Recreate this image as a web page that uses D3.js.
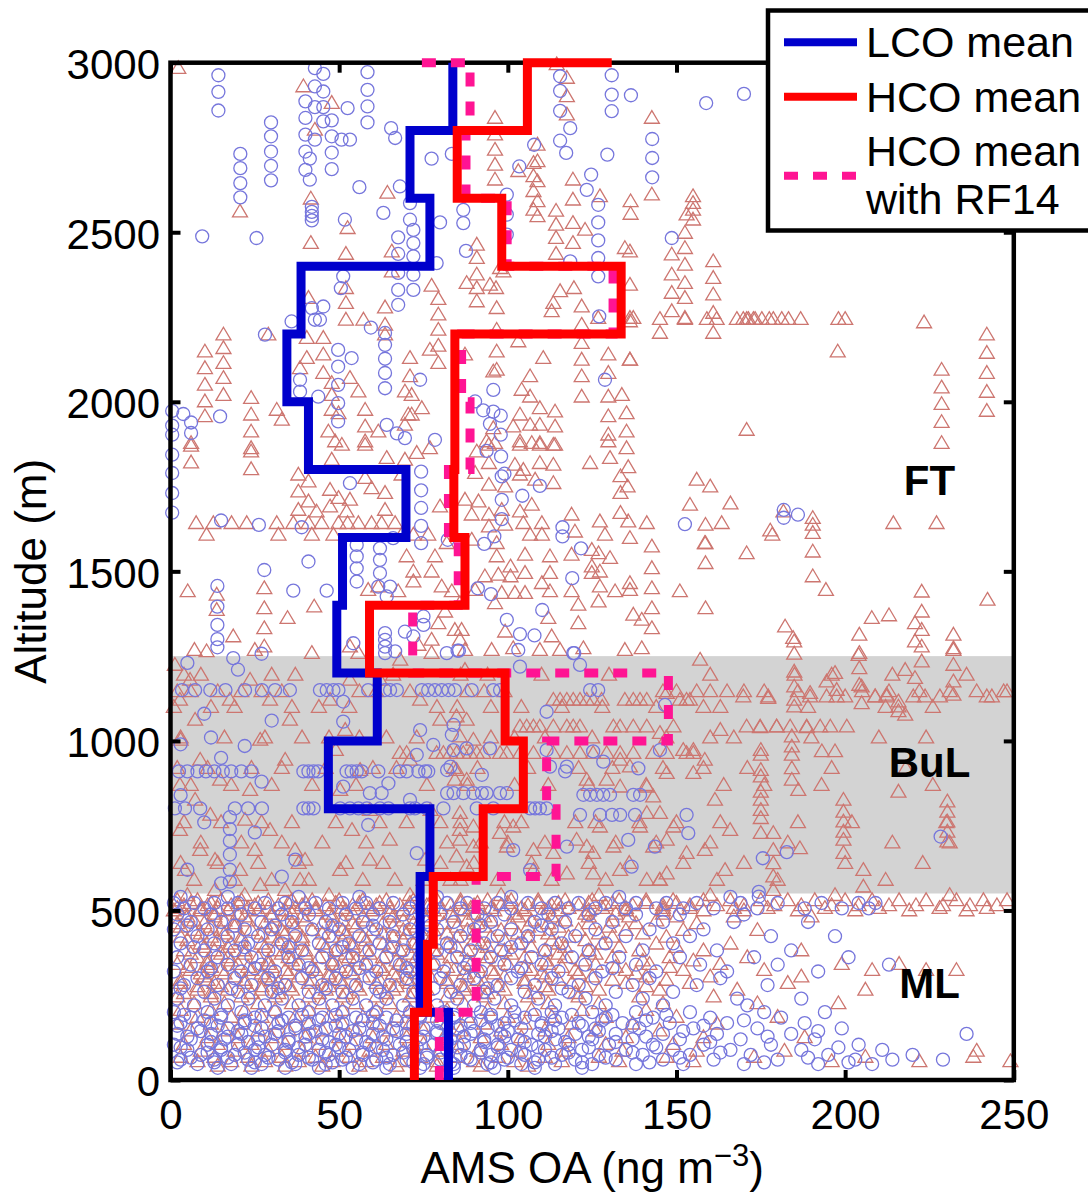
<!DOCTYPE html>
<html><head><meta charset="utf-8">
<script src="https://cdn.jsdelivr.net/npm/d3@7"></script>
<style>body{margin:0;background:#fff} svg text{font-family:"Liberation Sans",Arial,Helvetica,sans-serif}</style>
</head><body>
<svg id="c" width="1088" height="1197"></svg>
<script>
// ---------------- DATA ----------------
const xTicks = [0, 50, 100, 150, 200, 250];
const yTicks = [0, 500, 1000, 1500, 2000, 2500, 3000];
const bandRange = [550, 1250];           // BuL shading (m)
const layerLabels = [["FT", 225, 1726], ["BuL", 225, 894], ["ML", 225, 242]];
const legendLabels = ["LCO mean", "HCO mean", "HCO mean", "with RF14"];

// 200 m altitude bin edges and step means (last value = end point at 3000 m)
const binAlt  = [0,200,400,600,800,1000,1200,1400,1600,1800,2000,2200,2400,2600,2800,3000];
const lcoMean = [82.4,74,74,76.9,46.8,61.3,49.3,51,69.8,40.9,34.5,38.7,76.9,71,83.7,83.7];
const hcoMean = [72.3,76.2,77.9,92.7,104.6,99.2,59,87.3,84,84.3,84.3,133.6,98.2,85,105.8,130.8];
const hcoRF14 = [79.7,90.6,90.6,114.3,111.5,147.6,71.8,85.3,82.4,88.8,86.3,131.2,99.8,87.6,88.8,72];

// LCO individual points (circles): vertical profiles [x,[alts]], level legs [alt,[xs]], scattered [x,alt]
const lcoCols = [
 [14.2,[2963,2914,2859]],[29.8,[2824,2783,2738,2696,2653]],[20.7,[2731,2689,2645,2603]],
 [42.8,[2984,2930,2869,2773]],[40,[2886,2837,2788,2738,2684]],[41.3,[2717,2655]],
 [45.3,[2967,2915,2869,2827]],[47.8,[2830,2783,2735,2686]],[58.4,[2972,2920,2871,2824]],
 [41.9,[2575,2560,2548,2535]],[72,[2507,2468,2429,2375,2330]],[67.5,[2485,2436,2380,2330]],
 [63.6,[2203,2168,2127,2085,2040]],[49.7,[2153,2104,2050,1996,1942]],[115.5,[2960,2917,2858,2770]],
 [130.8,[2963,2906,2857]],[142.8,[2775,2719,2662]],[126.8,[2581,2529,2476,2424,2370]],
 [99.7,[2611,2552,2493]],[0.5,[1973,1930,1903,1844,1790,1731,1673]],[74.3,[1794,1739,1687,1634,1583]],
 [55.2,[1578,1544,1509,1470]],[62.1,[1568,1534,1495]],[13.9,[1457,1396,1342,1300,1276]],
 [63.6,[1318,1298,1278,1259]],[17.6,[775,740,705,665,620,585]]
];
const lcoRows = [
 [1150,[3.4,7.3,11.8,16.3,22.1,27.1,31,35.4,44.3,46.3,48.3,49.8,58.6,63.6,65.1,67.1,74.5,76.4,78.4,80.4,82.4,84.3,89.3,95.7,97.7,124.4,126.8]],
 [910,[2.5,5,8,10.5,13,15.5,18,21,24,39.4,40.9,42.4,43.8,52.2,53.7,55.2,56.7,61.6,68,70,73.5,75.5,76.4]],
 [846,[82,83.9,86.8,89.8,92.3,93.7,97.7,99.7]],
 [841,[122.4,124.4,126.4,128.3,130.3,137.2,139.2]],
 [801,[1.3,4.3,8.8,19.1,23,27.1,39.4,40.9,42.4,50.3,53.2,55.7,58.2,62.1,64.6,71,72.5,76,80.9,90.8,95.7,106.6,108.1,109.5,111.5]],
 [782,[121.4,127.3,130.9,133.3,137.7,153]],
 [540,[3,17,38,56,79,101,133,166]],
 [522,[1,7,13,20,28,34,43,51,58,66,73,82,88,97,106,114,121,129,138,147,156,169,180,193,204,209]],
 [506,[4,10,17,25,32,40,47,55,62,71,78,86,93,101,110,118,126,135,144,152,161,174,188,199,207]],
 [488,[2,12,21,33,41,52,60,69,80,91,99,112,124,138,151,170]],
 [466,[6,15,27,36,46,57,65,76,84,95,108,117,131,146,167,189]],
 [455,[5,19,31,48,60,77,92,110]],
 [444,[1,11,22,30,42,50,61,71,79,90,101,113,126,142,158]],
 [424,[8,17,26,37,47,56,66,75,86,97,106,120,135,154,178,197]],
 [403,[3,13,23,33,44,53,62,72,82,93,104,116,129,149]],
 [392,[7,22,35,51,66,83,101]],
 [382,[10,19,29,39,49,59,69,79,89,98,111,124,140,162,184]],
 [362,[2,14,24,35,45,54,64,74,85,95,107,119,133,151,173,201]],
 [340,[6,17,27,38,48,58,68,78,88,99,110,123,138,157,180,213]],
 [330,[12,25,41,56,70,87,104,131]],
 [320,[1,11,21,31,42,52,61,71,81,92,103,115,128,144,165,192]],
 [300,[8,19,29,39,49,59,70,80,90,101,113,126,142,163]],
 [280,[4,14,24,34,45,55,65,75,86,97,108,121,137,156,177]],
 [270,[3,18,32,46,61,78,94,116]],
 [260,[10,20,30,41,51,62,72,83,93,105,118,132,149]],
 [240,[2,13,23,33,44,54,64,75,85,96,109,123,140,168,187]],
 [220,[7,17,28,38,48,58,69,79,90,101,114,129,146,171]],
 [200,[1,11,21,31,41,51,61,71,81,92,102,113,125,138,154,176,194]],
 [192,[4,15,27,39,49,60,74,84,95,108,119,131,147]],
 [184,[6,15,25,35,45,55,64,74,84,95,105,116,129,143,160,181]],
 [176,[10,22,33,44,57,67,79,92,102,114,128,141,170]],
 [168,[3,12,22,32,41,51,60,70,80,89,99,110,121,134,148,165,188]],
 [160,[2,14,25,37,49,62,72,86,97,110,122,137,158]],
 [152,[8,17,27,37,46,56,66,75,85,94,104,115,126,139,155,174,199]],
 [144,[9,20,32,43,54,67,79,90,100,113,127,152,192]],
 [136,[2,12,21,31,41,50,60,70,79,89,98,109,120,132,146,162,184,236]],
 [128,[5,17,28,40,52,63,75,87,99,111,124,141,177]],
 [120,[6,16,26,35,45,55,64,74,83,93,103,114,125,137,151,169,191]],
 [112,[12,23,35,47,58,70,82,93,105,117,132,160]],
 [104,[1,11,20,30,40,49,59,68,78,87,97,107,118,130,143,158,178,204]],
 [96,[3,15,26,38,50,61,73,85,97,109,124,144,198]],
 [89,[5,15,25,34,44,53,63,72,82,92,101,111,122,135,149,166,187,211]],
 [81,[11,22,34,46,57,69,80,92,104,118,137,163]],
 [74,[9,19,28,38,47,57,66,76,86,95,105,116,127,140,154,172,195,220]],
 [66,[6,17,29,41,52,64,76,88,100,113,129,151,189]],
 [60,[3,13,23,32,42,51,61,70,80,89,99,109,120,132,146,161,180,203,214,229]],
 [52,[2,13,25,36,48,60,72,83,95,108,122,142,176,201]],
 [47,[8,18,27,37,46,56,65,75,84,94,104,114,125,138,152,170,192,208]],
 [36,[14,24,34,44,54,64,74,84,96,108,122]]
];
const lcoPts = [
 [9.4,2488],[25.5,2483],[52.5,2866],[50.7,2773],[53.2,2773],[56,2633],[51.7,2537],[63.1,2557],[65.4,2807],[66.6,2778],
 [68,2635],[71,2586],[71,2537],[78.9,2409],[79.9,2529],[77.4,2717],[83.4,2731],[51.2,2370],[50.5,2335],[45.3,2281],
 [41.9,2276],[42.8,2242],[44.3,2242],[35.9,2237],[28,2198],[59.4,2219],[67.5,2286],[53.7,2129],[38.4,2065],[38.4,2030],
 [43.8,2015],[74,2065],[64.1,1932],[67.1,1907],[69.5,1893],[78.4,1888],[3.8,1964],[6.1,1939],[6.1,1908],[14.7,1957],
 [117.3,2734],[118.5,2807],[136.5,2904],[129.5,2729],[158.8,2881],[170,2908],[107.8,2758],[103.4,2694],[124.7,2670],[123.4,2625],
 [127.1,2252],[86.8,2566],[86.8,2527],[87.6,2445],[118.5,2414],[148.6,2483],[128.8,2065],[95.7,2035],[95.7,1971],[97.9,1959],
 [97.9,1903],[90.3,2001],[92.7,1975],[94.7,1935],[93.7,1855],
 [98,1839],[98.2,1780],[99,1788],[109.5,1752],[104.3,1723],[98.2,1711],[98.2,1654],[96,1603],[93,1581],[116.2,1630],
 [116.2,1603],[121.7,1568],[119.1,1480],[152.5,1639],[91.1,1450],[95,1433],[110.2,1386],[99.7,1357],[103.6,1315],[107.9,1311],
 [103.1,1268],[119.7,1259],[85.5,1266],
 [15,1650],[26.2,1637],[38.9,1630],[40.9,1529],[27.8,1504],[36.4,1443],[46.3,1443],[18.6,1244],[27,1257],[53.2,1760],
 [61.6,1455],[65.1,1455],[64.1,1426],[66,1598],[69.5,1322],[72,1308],[75,1367],[75,1342],[54.2,1288],[66.6,1264],
 [81.9,1259],[85.1,1266],[82.2,1593],[181.8,1681],[181.8,1658],[186,1667],
 [51.2,1116],[51.2,1057],[74,1032],[83.4,1018],[83.9,1047],[111.5,1086],[119.4,1259],[121.4,1224],[103.6,1219],[146.6,1106],
 [77.9,988],[83.9,973],[87.8,978],[94.7,978],[73,959],[125.3,969],[145.1,973],[111.5,973],[112.5,924],[117.5,924],
 [117,910],[128.3,939],[138.7,919],[92.3,900],[82,914],[83,924],[51.2,865],[59.1,846],[62.6,846],[64.6,875],
 [71,826],[58.6,752],[73,669],[101.6,678],[106.6,619],[136.7,629],[153.5,728],[135.7,708],[143.6,688],[117.5,688],
 [175.6,654],[182.7,672],[174.4,555],[174.4,541],[228.3,718],
 [5,1230],[20,1210],[10,1080],[30,1060],[3,990],[15,950],[27,880],[3,840],[10,760],[25,730],[37,650],[5,620],[15,580],[33,600],[12,1010],[22,985]
];

// HCO individual points (triangles)
const hcoCols = [
 [79.4,[2303,2257,2212,2165,2114]],[15.7,[2198,2158,2114,2070,2020]],[10.2,[2148,2099,2050,2001,1957]],
 [23.9,[2011,1962,1912,1863,1853,1801]],[117.5,[2955,2901,2847]],[96.2,[2837,2788,2743,2699,2655]],
 [108.8,[2758,2709,2650,2591,2547]],[114.3,[2563,2522,2483,2436]],[154.9,[2606,2586,2566,2537]],
 [152.5,[2498,2453,2404,2350,2306]],[148.6,[2434,2375,2321,2267]],[160.9,[2414,2365,2316,2262,2203]],
 [242,[2198,2144,2085,2029,1973]],[228.6,[2094,2042,1993,1940,1878]],[190.4,[1657,1637,1613,1558,1485]],
 [184.9,[1293,1257,1204,1160,1121,1101]],[204.2,[1259,1214,1165]],[232.1,[1268,1224,1175,1136]],
 [184.2,[1013,983,959,919,885]],[175,[973,959,914,895,850,826,796,772,728]],[178.7,[728,678,639,600,560]],
 [199.5,[826,791,762,732,708,669]],[230.3,[821,791,762,732,703]],[205.4,[619,570]],[6.1,[1870,1821]],
 [27.8,[1450,1391,1332,1278]],[13.7,[1431,1386]]
];
const hcoRows = [
 [2244,[145.1,152.5,159,161.9,167.9,169.8,170.8,171.3,172.8,173.3,175.3,177.5,178.7,181.2,183.2,186.8,198,200]],
 [1642,[7.6,12.7,18.1,22.6,31.5,36.4,40.9,44.8,49.8,52.5,55.7,59.6,62.6,66.6]],
 [1608,[10.7,32,41.9,48.3,68.5,72,76.4]],
 [1195,[4,9,30,37,66,86,94,110,130,160,185,196,214,236]],
 [1146,[2,6,14,21,27,33,56,61,71,88,93,99,146,150,156,160,165,170,176,186,205,213,222,231,239,247]],
 [1131,[169.8,177.2,189.6,194.5,197.5,200,208.9,212.3,220.2,223.7,228.1,242,243.5]],
 [1121,[113.5,115.5,117.5,119.4,121.4,123.4,125.3,127.8,134.7,137.2,139.2,141.2,151,153]],
 [1100,[1,12,19,36,44,53,79,85,95,104,116,128,144,158,163,189,212,226]],
 [1042,[103.6,105.6,107.6,109.5,113.5,117.5,119.4,121.4,131.3,133.3,137.2,141.2,149.1,170.8,174.8,179.7,183.7,188.6,192.6,195.6,200.5]],
 [1010,[3,16,28,39,47,56,64,73,95,102,111,125,147,160,167,190,210,224]],
 [964,[68,70,78.9,80.9,82.9,84.8,86.8,88.8,90.8,92.7,97.7,99.7,103.6,107.6,113.5,117.5,121.4,125.3,129.3,133.3,137.2,143.1,147.1,153,155]],
 [920,[2,11,24,33,46,60,67,84,91,106,121,131,146,158,171,196,218]],
 [870,[6,18,30,42,55,76,88,102,112,124,141,164,176,193,226]],
 [760,[4,15,27,36,49,62,70,80,86,99,104,120,126,139,150,163,186,202,230]],
 [700,[9,21,33,45,58,82,92,100,111,132,144,160,183,214,231]],
 [640,[3,14,26,38,52,63,80,90,107,124,136,152,170,200,223]],
 [590,[7,19,30,41,57,75,86,97,113,129,145,162,180,212]],
 [545,[5,22,47,71,98,127,160,197,231]],
 [530,[2,8,15,21,29,36,42,50,57,64,72,79,86,94,101,109,117,125,133,141,149,158,166,175,183,191,200,208,216,224,233,241,248]],
 [522,[6,12,20,26,35,40,49,56,62,71,77,86,91,100,109,115,124,131,141,150]],
 [515,[4,11,18,25,32,39,46,54,61,68,76,83,90,98,106,113,121,129,137,146,154,162,170,179,187,196,204,213,221,229,237,245]],
 [507,[2,9,14,23,29,37,43,51,59,65,74,80,89,95,104,112,118,128,135,146,154,167,177,194,210,228,242]],
 [500,[1,9,17,26,34,43,52,60,69,78,87,96,105,115,124,135,146,158,170,186,203,219,236]],
 [490,[4,13,20,30,36,47,54,65,72,83,90,102,110,123,132,146]],
 [482,[5,13,22,30,39,48,57,66,75,84,93,103,113,124,136,150,167,190]],
 [470,[7,16,23,34,40,51,58,69,76,88,95,107,117,131,144]],
 [462,[2,10,19,28,36,45,54,63,72,81,91,101,112,124,138,156]],
 [452,[3,12,19,30,37,48,55,66,73,85,93,106,115,130]],
 [442,[7,15,24,33,42,51,60,69,78,88,98,109,121,135,152,174]],
 [432,[9,16,27,34,45,52,63,70,82,90,103,112,127,140]],
 [422,[3,12,21,30,39,48,57,66,75,85,95,106,118,131,147]],
 [412,[5,14,21,32,39,51,58,69,77,90,99,113,123]],
 [402,[9,18,27,36,45,54,63,72,82,92,103,115,128,144,166]],
 [392,[10,17,28,35,46,54,65,73,85,94,107,117,133,150]],
 [382,[4,13,22,31,40,49,58,68,78,88,99,111,124,139,158,187]],
 [372,[6,15,22,33,40,52,59,71,79,92,101,115,126]],
 [362,[8,17,26,35,44,53,63,73,83,94,105,117,131,148,171]],
 [352,[11,18,29,36,48,55,67,75,88,97,111,122,140,155]],
 [342,[2,11,20,29,38,48,58,68,78,89,100,112,126,142,163,199,216]],
 [333,[5,12,23,30,42,50,62,70,82,91,105,116,132,148]],
 [324,[6,15,24,34,43,53,63,73,84,95,107,120,135,152,176,208,224,233]],
 [314,[9,16,27,35,47,54,66,74,87,96,110,121,138]],
 [305,[10,19,28,38,47,57,67,77,88,99,111,125,141,160,187]],
 [295,[3,11,22,30,42,50,62,70,82,91,105,115,131,147]],
 [286,[3,13,22,32,41,51,61,71,82,93,105,119,135,154,183]],
 [276,[8,15,27,35,47,55,67,75,87,97,111,123,141]],
 [266,[8,17,27,36,46,56,66,76,87,99,112,127,145,168,206]],
 [256,[4,12,24,32,44,52,64,72,85,94,108,120]],
 [246,[2,12,21,31,41,51,61,71,82,93,106,121,139,161]],
 [226,[7,16,26,36,45,55,65,76,87,99,112,127,146,174,198]],
 [206,[3,12,22,31,41,51,61,71,82,94,107,122,141]],
 [186,[8,18,27,37,47,57,67,77,88,100,113,129,150,180]],
 [166,[2,12,21,31,41,51,61,71,82,93,105,119,137,162]],
 [146,[6,16,26,35,45,55,65,75,86,98,111,126,145]],
 [126,[11,20,30,40,50,60,70,81,92,104,118,135,158,188]],
 [106,[4,14,24,34,44,54,64,75,86,98,112,129,149]],
 [86,[9,19,29,39,49,59,69,80,91,103,117,134,156,182,239]],
 [68,[3,13,23,33,43,53,63,74,85,97,111,127,147,173,206,238]],
 [55,[8,18,28,38,48,58,68,79,90,102,116,133,155,196,222,249]],
 [42,[14,24,34,45,56,67,79,92,106]]
];
const hcoPts = [
 [2.3,2984],[39.4,2930],[47.8,2881],[42.8,2802],[20.6,2561],[41.6,2599],[41.6,2468],[52.5,2512],[64.3,2616],[52,2436],
 [65.6,2443],[65.6,2384],[77.4,2342],[52,2335],[52,2291],[52,2242],[40.9,2306],[57.2,2242],[63.6,2278],[63.6,2227],
 [63.6,2198],[29,2198],[40.4,2188],[45.3,2188],[40.4,2129],[45.3,2139],[38.4,2099],[45.3,2085],[47.8,2055],[53.2,2070],
 [55.7,2030],[47.8,2020],[47.8,1976],[49.8,1966],[71,2129],[71,2075],[69.5,2030],[71.5,2020],[70.5,1962],[74.5,1981],
 [76.9,2153],[76.9,1863],[31.5,1976],[33,1947],[6.1,1878],[46.8,1912],[48.8,1883],[57.7,1976],[57.7,1927],[57.7,1883],
 [61.6,1912],[71.5,1962],[69.5,1932],
 [114.5,2995],[142.7,2837],[142.7,2611],[107.6,2704],[103.1,2680],[107.6,2665],[107.6,2621],[107.6,2566],[119.3,2655],[119.3,2596],
 [119.3,2527],[119.3,2468],[122.9,2507],[127.3,2606],[136.4,2591],[136.4,2554],[134.7,2453],[136.2,2443],[136.2,2345],[136.2,2247],
 [136.2,2124],[153,2552],[90.8,2463],[90.8,2424],[90.8,2375],[87.8,2350],[90.8,2335],[90.8,2296],[94.7,2345],[96.5,2335],
 [96.7,2276],[96.7,2212],[98.7,2384],[97.7,2394],[113.5,2291],[113,2267],[115.5,2326],[119.6,2335],[121.9,2281],[121.9,2227],
 [126.8,2247],[136.2,2237],[145.1,2203],[137.2,2247],[152.5,2247],
 [87.3,2139],[96.7,2148],[103.1,2178],[110.5,2129],[121.9,2173],[121.9,2124],[129.8,2139],[136.2,2124],[95.7,2089],[96.7,2094],
 [106.6,2075],[121.9,2075],[129.8,2085],[104.1,2035],[106.6,2015],[121.9,2015],[129.8,2015],[133.8,2020],[109.5,1981],[103.6,1962],
 [114,1971],[129.8,1957],[135.2,1966],[95.7,1922],[101.6,1927],[106.6,1932],[109.5,1932],[114,1927],[129.8,1903],[135.2,1912],
 [93.7,1883],[103.6,1883],[109.5,1878],[114,1873],[135.2,1863],[170.8,1917],
 [223.4,2234],[197.8,2148],[170.8,1553],[214.3,1642],[227.1,1642],[178.4,1608],[181.7,1676],[194.3,1445],[222.7,1440],[222.7,1381],
 [220.7,1347],[222.7,1327],[220.7,1293],[232.1,1313],[232.1,1273],[242.2,1416],[207.9,1362],[204.2,1313],[182.2,1337],[184.6,1303],
 [37.9,1785],[40.9,1765],[37.9,1735],[40.9,1706],[37.9,1681],[47.3,1740],[47.3,1691],[49.8,1716],[52.2,1676],[53.2,1711],
 [57.7,1775],[59.6,1745],[63.6,1731],[63.6,1681],[69.5,1829],[73,1849],[47.8,1829],[50.8,1873],[57.7,1873],[64.1,1834],
 [68.5,1785],[79.9,1691],[43.3,1676],
 [5.1,1441],[34.7,1362],[42.6,1396],[18.6,1308],[7.1,1268],[10.7,1264],[25,1268],[41.9,1259],[58.6,1445],[61.6,1455],
 [67.5,1441],[72,1470],[78.4,1544],[81.9,1583],[80.4,1455],[83.4,1441],[70,1544],[72,1499],[77.4,1499],[79.4,1347],
 [81.4,1381],[84.3,1327],[85.8,1298],[77.4,1298],[53.2,1278],[55.7,1259],[73.5,1283],[77.4,1259],
 [94.4,1873],[96.2,1878],[103.6,1873],[107.1,1878],[109.5,1873],[113.5,1873],[129.8,1883],[130.3,1834],[124.4,1819],[135.7,1807],
 [133.4,1780],[135.5,1750],[90.8,1853],[94.4,1819],[102.1,1814],[104.6,1799],[109.5,1819],[113.5,1814],[90.3,1790],[94.4,1755],
 [99.2,1750],[103.6,1785],[113.5,1760],[108.1,1770],
 [87.3,1711],[91.3,1706],[89.3,1667],[94.4,1667],[98.2,1681],[103.6,1676],[107.1,1696],[94.4,1632],[99.2,1637],[104.6,1642],
 [106.6,1608],[110.1,1608],[110.1,1642],[118.9,1667],[119.9,1617],[127.3,1647],[128.8,1608],[133.4,1672],[135.7,1647],[136.2,1598],
 [141.2,1642],[133.4,1731],[154,1696],[158.6,1637],[163.4,1642],[158.4,1583],[142.7,1573],[118.9,1549],[124.9,1563],[126.9,1553],
 [112.5,1544],[105.1,1549],[96.7,1544],[100.8,1514],[96.7,1583],[89.3,1593],
 [142.7,1509],[142.7,1450],[136.2,1445],[136.2,1465],[131.8,1441],[127.3,1455],[118.9,1441],[112.5,1441],[110.1,1465],
 [105.1,1436],[102.1,1436],[98.2,1436],[93.2,1485],[97.2,1490],[124.9,1495],[124.9,1514],[130.3,1539],[127.3,1499],[112.5,1495],
 [105.1,1495],[100.8,1485],[158.6,1524],[158.6,1583],[151,1441],[158.6,1391],[142.7,1391],[137.2,1372],[139.7,1357],[142.7,1332],
 [126.9,1411],[120.9,1401],[120.9,1347],[112,1362],[113,1308],[99.2,1322],[96.2,1406],[86.3,1327],[95.2,1268],[87.3,1268],
 [101.6,1273],[109.5,1268],[115.5,1268],[122.4,1273],[134.7,1268],[139.7,1273],[85.8,1406],[90.3,1445],
 [156,1770],[160,1750],[166,1700],[177.8,1620],[213,1370],[204,1253],
 [1.3,1224],[5.8,1180],[2.8,1121],[7.3,1062],[3,1003],[8.8,944],[2.8,870],[7.3,826],[2.8,737],[8.8,678],
 [4.3,619],[13.2,649],[20.6,619],[17.6,1121],[23.6,1180],[29.5,1121],[35.4,1062],[26.6,1003],[34,944],[23.6,855],
 [29.5,737],[25,678],[36.9,678],[38.4,590],[14.7,885],[22.1,767],[11.8,782],[26.6,575],[13.2,560],[34,560],[39.9,649],
 [47.3,1121],[53.2,1180],[51.8,1032],[49,973],[56.2,914],[50.3,855],[59.1,796],[53.8,737],[65,708],[59.1,649],
 [50.3,619],[66.5,590],[74,1121],[80,1062],[71,944],[84.3,885],[77.1,796],[85.8,737],[75.5,649],[83,590],
 [68.1,1239],[62.1,1180],[87.3,1209],[157,1239],[154,1121],[163,1032],[158.4,944],[161.4,826],[165.9,737],[158.4,678],[164.4,619],
 [84.8,1072],[87.8,1062],[85.8,1013],[89.8,1003],[84.8,914],[87.8,885],[85.8,787],[89.8,747],[85.8,708],[89.8,688],[84.8,659],[87.8,629],
 [97.7,728],[99.7,688],[101.6,747],[107.6,678],[107.6,619],[113.5,669],[117.5,609],[120.4,708],[123.4,688],[127.3,747],
 [125.3,669],[125.3,609],[131.3,688],[133.3,619],[139.2,747],[141.2,865],[143.1,836],[141.2,787],[145.1,787],[147.1,708],
 [149.1,747],[153,669],[155,905],[147.1,905],[143.1,688],[147.1,609],[133.3,865],[136.2,924],[133.3,944],[123.4,885],[129.3,885],
 [145.1,590],[141.2,590],[147.1,1141],[145.1,1023],[152,973],[155,973],
 [174.8,1040],[179.7,1042],[188.6,1040],[193.1,969],[197,969],[177.2,1126],[208.9,1131],[212.3,1136],[215.8,1116],[215.8,1101],
 [215.8,1087],[217.8,1077],[204.9,1111],[197,1200],[194.5,1175],[197.5,1150],[189.6,1141],[217.8,1209],[220.7,1185],[222.7,1278],
 [222.7,1234],[186.1,855],[186.6,683],[204.9,1160],[215.8,850],[248,1146]
];
// --------------------------------------

const svg = d3.select('#c');
const x = d3.scaleLinear().domain([0, 250]).range([170.5, 1013.8]);
const y = d3.scaleLinear().domain([0, 3000]).range([1080, 62.7]);

function expand(cols, rows, pts) {
  const out = [];
  cols.forEach(([xv, alts]) => alts.forEach(a => out.push([xv, a])));
  rows.forEach(([a, xs]) => xs.forEach(xv => out.push([xv, a])));
  pts.forEach(p => out.push(p));
  return out;
}
const lcoAll = expand(lcoCols, lcoRows, lcoPts);
const hcoAll = expand(hcoCols, hcoRows, hcoPts);

// BuL band
svg.append('rect')
  .attr('x', x(0)).attr('y', y(bandRange[1]))
  .attr('width', x(250) - x(0)).attr('height', y(bandRange[0]) - y(bandRange[1]))
  .attr('fill', '#d3d3d3');

// markers
const triPath = 'M0,-7.4L7.5,5.3L-7.5,5.3Z';
svg.append('g').selectAll('path').data(hcoAll).join('path')
  .attr('d', triPath)
  .attr('transform', d => `translate(${x(d[0])},${y(d[1])})`)
  .attr('fill', 'none').attr('stroke', '#cd7670').attr('stroke-width', 1.3);
svg.append('g').selectAll('circle').data(lcoAll).join('circle')
  .attr('cx', d => x(d[0])).attr('cy', d => y(d[1])).attr('r', 6.5)
  .attr('fill', 'none').attr('stroke', '#7676dc').attr('stroke-width', 1.3);

// axes
function styleAxis(g) {
  g.select('.domain').remove();
  g.selectAll('.tick line').attr('stroke', '#000').attr('stroke-width', 4);
  g.selectAll('.tick text').attr('fill', '#000').style('font-size', '42px')
   .style('font-family', '"Liberation Sans",Arial,sans-serif');
}
svg.append('g').attr('transform', `translate(0,${y(0)})`)
  .call(d3.axisBottom(x).tickValues(xTicks).tickSize(-10).tickPadding(19.5).tickFormat(d3.format('d')))
  .call(styleAxis);
svg.append('g').attr('transform', `translate(0,${y(3000)})`)
  .call(d3.axisTop(x).tickValues(xTicks).tickSize(-10).tickFormat(''))
  .call(styleAxis);
const yl = svg.append('g').attr('transform', `translate(${x(0)},0)`)
  .call(d3.axisLeft(y).tickValues(yTicks).tickSize(-10).tickPadding(10.5).tickFormat(d3.format('d')))
  .call(styleAxis);
yl.selectAll('.tick text').attr('dy', '0.38em');
svg.append('g').attr('transform', `translate(${x(250)},0)`)
  .call(d3.axisRight(y).tickValues(yTicks).tickSize(-10).tickFormat(''))
  .call(styleAxis);
svg.append('rect')
  .attr('x', x(0)).attr('y', y(3000)).attr('width', x(250) - x(0)).attr('height', y(0) - y(3000))
  .attr('fill', 'none').attr('stroke', '#000').attr('stroke-width', 4.5);

// step mean profiles
function steps(vals) {
  const pts = [];
  for (let i = 0; i < binAlt.length - 1; i++) {
    pts.push([vals[i], binAlt[i]]);
    pts.push([vals[i], binAlt[i + 1]]);
  }
  pts.push([vals[vals.length - 1], binAlt[binAlt.length - 1]]);
  return pts;
}
const line = d3.line().x(d => x(d[0])).y(d => y(d[1]));
const series = [
  {vals: lcoMean, color: '#0000cc', dash: null},
  {vals: hcoRF14, color: '#ff1493', dash: '14,15'},
  {vals: hcoMean, color: '#ff0000', dash: null}
];
series.forEach(s => {
  svg.append('path').attr('d', line(steps(s.vals)))
    .attr('fill', 'none').attr('stroke', s.color).attr('stroke-width', 9)
    .attr('stroke-linejoin', 'miter').attr('stroke-linecap', 'butt')
    .attr('stroke-dasharray', s.dash);
});

// layer labels
svg.append('g').selectAll('text').data(layerLabels).join('text')
  .attr('x', d => x(d[1])).attr('y', d => y(d[2]))
  .attr('text-anchor', 'middle').style('font-size', '42px').style('font-weight', 'bold')
  .text(d => d[0]);

// axis labels
const xl = svg.append('text').attr('x', (x(0) + x(250)) / 2).attr('y', 1183)
  .attr('text-anchor', 'middle').style('font-size', '44px');
xl.append('tspan').text('AMS OA (ng m');
xl.append('tspan').attr('dy', -17).style('font-size', '31px').text('\u22123');
xl.append('tspan').attr('dy', 17).text(')');
svg.append('text').attr('transform', 'translate(46,' + ((y(0) + y(3000)) / 2) + ') rotate(-90)')
  .attr('text-anchor', 'middle').style('font-size', '44px').text('Altitude (m)');

// legend
const lg = svg.append('g');
lg.append('rect').attr('x', 768).attr('y', 10.5).attr('width', 335).attr('height', 220)
  .attr('fill', '#fff').attr('stroke', '#000').attr('stroke-width', 4.5);
const legItems = [
  {y: 42.3, color: '#0000cc', dash: null},
  {y: 96.7, color: '#ff0000', dash: null},
  {y: 175.7, color: '#ff1493', dash: '14,15'}
];
legItems.forEach(it => {
  lg.append('line').attr('x1', 784).attr('x2', 857).attr('y1', it.y).attr('y2', it.y)
    .attr('stroke', it.color).attr('stroke-width', 8).attr('stroke-dasharray', it.dash);
});
const legY = [57.3, 111.7, 166, 214];
legendLabels.forEach((t, i) => {
  lg.append('text').attr('x', 866).attr('y', legY[i]).style('font-size', '43px').text(t);
});
</script>
</body></html>
